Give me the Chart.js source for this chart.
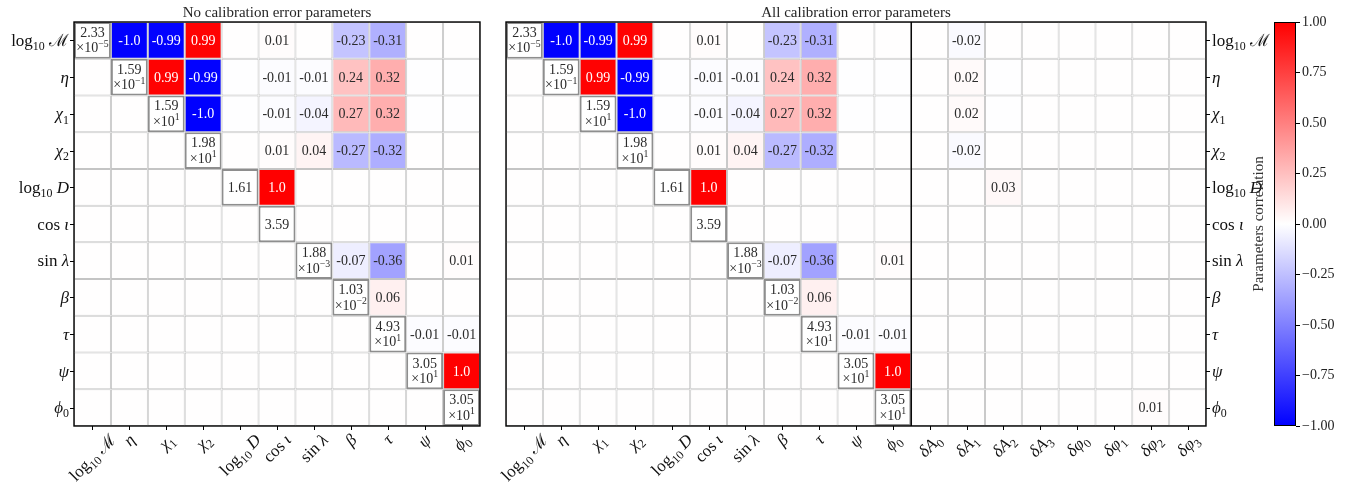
<!DOCTYPE html>
<html>
<head>
<meta charset="utf-8">
<script src="https://cdn.jsdelivr.net/npm/chart.js@4.4.1/dist/chart.umd.min.js"></script>
<style>
  html, body { margin: 0; padding: 0; background: #ffffff; }
  #wrap { position: relative; width: 1347px; height: 483px; overflow: hidden; }
  #wrap canvas { position: absolute; top: 0; }
</style>
</head>
<body>
<div id="wrap">
  <canvas id="leftMatrix" width="500" height="483" style="left:0px"></canvas>
  <canvas id="rightMatrix" width="790" height="483" style="left:490px"></canvas>
  <canvas id="colorBar" width="107" height="483" style="left:1240px"></canvas>
</div>
<script>
// ---------- parameters ----------
const physParams = ['log₁₀ ℳ', 'η', 'χ₁', 'χ₂', 'log₁₀ D', 'cos ι', 'sin λ', 'β', 'τ', 'ψ', 'ϕ₀'];
const calParams  = ['δA₀', 'δA₁', 'δA₂', 'δA₃', 'δφ₀', 'δφ₁', 'δφ₂', 'δφ₃'];

// 1-sigma uncertainties shown on the diagonal
const sigmas = [2.33e-5, 1.59e-1, 1.59e1, 1.98e1, 1.61, 3.59, 1.88e-3, 1.03e-2, 4.93e1, 3.05e1, 3.05e1];

// correlations with the physical parameters (upper triangle, one row per parameter)
const corrLogM = [0, -1.0, -0.99, 0.99, 0.002, 0.01, 0.002, -0.23, -0.31, 0.004, 0.001];
const corrEta  = [0, 0, 0.99, -0.99, -0.002, -0.01, -0.01, 0.24, 0.32, -0.004, -0.001];
const corrChi1 = [0, 0, 0, -1.0, -0.002, -0.01, -0.04, 0.27, 0.32, -0.004, -0.001];
const corrChi2 = [0, 0, 0, 0, 0.002, 0.01, 0.04, -0.27, -0.32, 0.004, 0.001];
const corrLogD = [0, 0, 0, 0, 0, 1.0, 0.003, 0, 0, 0, 0];
const corrCosI = [0, 0, 0, 0, 0, 0, 0.003, 0, 0, 0, 0];
const corrSinL = [0, 0, 0, 0, 0, 0, 0, -0.07, -0.36, 0.002, 0.01];
const corrBeta = [0, 0, 0, 0, 0, 0, 0, 0, 0.06, 0, 0];
const corrTau  = [0, 0, 0, 0, 0, 0, 0, 0, 0, -0.01, -0.01];
const corrPsi  = [0, 0, 0, 0, 0, 0, 0, 0, 0, 0, 1.0];
const corrPhi0 = [0, 0, 0, 0, 0, 0, 0, 0, 0, 0, 0];

// correlations with the calibration error parameters
const calLogM = [0, -0.02, 0.002, 0, 0, 0, 0, 0];
const calEta  = [0, 0.02, -0.004, 0, 0, 0, 0, 0];
const calChi1 = [0, 0.02, -0.004, 0, 0, 0, 0, 0];
const calChi2 = [0, -0.02, 0.004, 0, 0, 0, 0, 0];
const calLogD = [0, 0, 0.03, 0, 0, 0, 0, 0];
const calCosI = [0, 0, 0, 0, 0, 0, 0, 0];
const calSinL = [0, 0, 0, 0, 0, 0, 0, 0];
const calBeta = [0, 0, 0, 0, 0, 0, 0, 0];
const calTau  = [0, 0, 0, 0, 0, 0, 0, 0];
const calPsi  = [0, 0, 0, 0, 0, 0, 0, 0];
const calPhi0 = [0, 0, 0, 0, 0, 0, 0.01, 0];

// colour bar ticks
const cbarTicks = [-1.0, -0.75, -0.5, -0.25, 0.0, 0.25, 0.5, 0.75, 1.0];

const physRows = [corrLogM, corrEta, corrChi1, corrChi2, corrLogD, corrCosI, corrSinL, corrBeta, corrTau, corrPsi, corrPhi0];
const calRows  = [calLogM, calEta, calChi1, calChi2, calLogD, calCosI, calSinL, calBeta, calTau, calPsi, calPhi0];

// ---------- helpers ----------
const FONT = '"Liberation Serif", "DejaVu Serif", serif';
const SUBS = '₀₁₂₃₄₅₆₇₈₉';
const NUM_SIZE = 14;
const LABEL_SIZE = 17;

// bwr colormap with a 256 entry lookup, like matplotlib
function bwr(v) {
  const x = (v + 1) / 2;
  let i = Math.floor(x * 256);
  i = Math.min(255, Math.max(0, i));
  const p = i / 255;
  let r, g, b;
  if (p <= 0.5) { r = g = 2 * p; b = 1; } else { r = 1; g = b = 2 * (1 - p); }
  return `rgb(${Math.round(r * 255)},${Math.round(g * 255)},${Math.round(b * 255)})`;
}

// split a label into upright / italic / subscript runs
function parseLabel(s) {
  const out = [];
  for (const ch of s) {
    let type = 'rm', t = ch;
    const k = SUBS.indexOf(ch);
    if (k >= 0) { type = 'sub'; t = String(k); }
    else if (/[A-Z\u0370-\u03FF]/.test(ch)) type = 'it';
    const last = out[out.length - 1];
    if (last && last.type === type) last.t += t; else out.push({ type, t });
  }
  return out;
}
function segFont(type, size) {
  if (type === 'it') return `italic ${size}px ${FONT}`;
  if (type === 'sub' || type === 'sup') return `${(size * 0.7).toFixed(1)}px ${FONT}`;
  return `${size}px ${FONT}`;
}
function richWidth(ctx, segs, size) {
  let w = 0;
  for (const s of segs) { ctx.font = segFont(s.type, size); w += ctx.measureText(s.t).width; }
  return w;
}
// y is the vertical middle of the text
function drawRich(ctx, segs, x, y, size, align) {
  const w = richWidth(ctx, segs, size);
  let cx = align === 'center' ? x - w / 2 : align === 'right' ? x - w : x;
  const base = y + 0.33 * size;
  ctx.textAlign = 'left';
  ctx.textBaseline = 'alphabetic';
  for (const s of segs) {
    ctx.font = segFont(s.type, size);
    let dy = 0;
    if (s.type === 'sub') dy = 0.25 * size;
    if (s.type === 'sup') dy = -0.4 * size;
    ctx.fillText(s.t, cx, base + dy);
    cx += ctx.measureText(s.t).width;
  }
}

function corrText(v) {
  const r = Math.round(v * 100) / 100;
  if (r === 0) return null;
  return Number.isInteger(r) ? r.toFixed(1) : String(r);
}
function sigmaLines(v) {
  const e = Math.floor(Math.log10(v) + 1e-9);
  const m = (v / Math.pow(10, e)).toFixed(2);
  if (e === 0) return [[{ type: 'rm', t: m }]];
  return [[{ type: 'rm', t: m }], [{ type: 'rm', t: '×10' }, { type: 'sup', t: String(e).replace('-', '−') }]];
}

// ---------- correlation matrix chart ----------
function buildMatrix(canvasId, colLabels, rowValues, pad, cfg) {
  const n = physParams.length;
  const datasets = physParams.map((name, i) => ({
    label: name,
    data: colLabels.map(() => [i - 0.5, i + 0.5]),
    backgroundColor: rowValues[i].map((v, j) => j === i ? '#ffffff' : bwr(v)),
    borderColor: rowValues[i].map((v, j) => j === i ? '#8e8e8e' : '#c4c4c4'),
    borderWidth: rowValues[i].map((v, j) => j === i ? 2 : 1),
    borderSkipped: false,
    inflateAmount: 0,
    grouped: false,
    barPercentage: 1,
    categoryPercentage: 1
  }));

  const matrixDecor = {
    id: 'matrixDecor',
    afterDatasetsDraw(chart) {
      const ctx = chart.ctx;
      const xs = chart.scales.x, ys = chart.scales.y;
      const cw = xs.getPixelForValue(1) - xs.getPixelForValue(0);
      const ch = ys.getPixelForValue(1) - ys.getPixelForValue(0);
      ctx.save();
      for (let i = 0; i < n; i++) {
        for (let j = 0; j < colLabels.length; j++) {
          const x = xs.getPixelForValue(j), y = ys.getPixelForValue(i);
          if (j === i) {
            const lines = sigmaLines(sigmas[i]);
            ctx.save();
            ctx.beginPath();
            ctx.rect(x - cw / 2 - 2, y - ch / 2, cw + 1, ch);
            ctx.clip();
            ctx.fillStyle = '#2b2b2b';
            if (lines.length === 1) drawRich(ctx, lines[0], x, y, NUM_SIZE, 'center');
            else {
              drawRich(ctx, lines[0], x, y - 8, NUM_SIZE, 'center');
              drawRich(ctx, lines[1], x, y + 7.5, NUM_SIZE, 'center');
            }
            ctx.restore();
          } else {
            const t = corrText(rowValues[i][j]);
            if (!t) continue;
            ctx.fillStyle = Math.abs(rowValues[i][j]) > 0.5 ? '#ffffff' : '#2b2b2b';
            drawRich(ctx, [{ type: 'rm', t }], x, y, NUM_SIZE, 'center');
          }
        }
      }
      ctx.restore();
    },
    afterDraw(chart) {
      const ctx = chart.ctx;
      const a = chart.chartArea;
      const xs = chart.scales.x, ys = chart.scales.y;
      ctx.save();
      ctx.strokeStyle = '#000';
      ctx.fillStyle = '#111';
      ctx.lineWidth = 1;
      // tick marks
      ctx.beginPath();
      colLabels.forEach((_, j) => {
        const x = Math.round(xs.getPixelForValue(j)) + 0.5;
        ctx.moveTo(x, a.bottom); ctx.lineTo(x, a.bottom + 4);
      });
      physParams.forEach((_, i) => {
        const y = Math.round(ys.getPixelForValue(i)) + 0.5;
        if (cfg.yRight) { ctx.moveTo(a.right, y); ctx.lineTo(a.right + 4, y); }
        else { ctx.moveTo(a.left - 4, y); ctx.lineTo(a.left, y); }
      });
      ctx.stroke();
      // separator between physical and calibration blocks
      if (cfg.split) {
        const xSep = (xs.getPixelForValue(cfg.split - 1) + xs.getPixelForValue(cfg.split)) / 2;
        ctx.lineWidth = 1.4;
        ctx.beginPath(); ctx.moveTo(xSep, a.top); ctx.lineTo(xSep, a.bottom); ctx.stroke();
      }
      // frame
      ctx.lineWidth = 1.4;
      ctx.strokeRect(a.left, a.top, a.right - a.left, a.bottom - a.top);
      // row labels
      physParams.forEach((name, i) => {
        const y = ys.getPixelForValue(i);
        const segs = parseLabel(name);
        if (cfg.yRight) drawRich(ctx, segs, a.right + 6, y, LABEL_SIZE, 'left');
        else drawRich(ctx, segs, a.left - 5, y, LABEL_SIZE, 'right');
      });
      // column labels, rotated 45 degrees and centred on the tick
      colLabels.forEach((name, j) => {
        const segs = parseLabel(name);
        const w = richWidth(ctx, segs, LABEL_SIZE);
        const side = (w + LABEL_SIZE) * Math.SQRT1_2;
        const cx = xs.getPixelForValue(j);
        const cy = a.bottom + 5 + side / 2;
        ctx.save();
        ctx.translate(cx, cy);
        ctx.rotate(-Math.PI / 4);
        drawRich(ctx, segs, 0, 0, LABEL_SIZE, 'center');
        ctx.restore();
      });
      // title
      ctx.fillStyle = '#262626';
      ctx.font = `15px ${FONT}`;
      ctx.textAlign = 'center';
      ctx.textBaseline = 'alphabetic';
      ctx.fillText(cfg.title, (a.left + a.right) / 2, a.top - 5);
      ctx.restore();
    }
  };

  return new Chart(document.getElementById(canvasId), {
    type: 'bar',
    data: { labels: colLabels, datasets },
    options: {
      responsive: false,
      animation: false,
      devicePixelRatio: 1,
      layout: { padding: pad },
      scales: {
        x: { type: 'category', display: false, offset: true },
        y: { type: 'linear', display: false, reverse: true, min: -0.5, max: n - 0.5 }
      },
      plugins: { legend: { display: false }, tooltip: { enabled: false } }
    },
    plugins: [matrixDecor]
  });
}

buildMatrix('leftMatrix', physParams, physRows,
  { left: 74, right: 20, top: 22, bottom: 57 },
  { title: 'No calibration error parameters', yRight: false, split: 0 });

buildMatrix('rightMatrix', physParams.concat(calParams), physRows.map((r, i) => r.concat(calRows[i])),
  { left: 16, right: 74, top: 22, bottom: 57 },
  { title: 'All calibration error parameters', yRight: true, split: physParams.length });

// ---------- colour bar ----------
const cbarLabel = {
  id: 'cbarLabel',
  afterDraw(chart) {
    const ctx = chart.ctx, a = chart.chartArea;
    ctx.save();
    ctx.translate(a.left - 15, (a.top + a.bottom) / 2);
    ctx.rotate(-Math.PI / 2);
    ctx.fillStyle = '#333';
    ctx.font = `15px ${FONT}`;
    ctx.textAlign = 'center';
    ctx.textBaseline = 'middle';
    ctx.fillText('Parameters correlation', 0, 0);
    ctx.restore();
  }
};

new Chart(document.getElementById('colorBar'), {
  type: 'bar',
  data: {
    labels: [''],
    datasets: [{
      data: [[cbarTicks[0], cbarTicks[cbarTicks.length - 1]]],
      backgroundColor(c) {
        const a = c.chart.chartArea;
        if (!a) return '#fff';
        const g = c.chart.ctx.createLinearGradient(0, a.top, 0, a.bottom);
        g.addColorStop(0, 'rgb(255,0,0)');
        g.addColorStop(0.5, 'rgb(255,255,255)');
        g.addColorStop(1, 'rgb(0,0,255)');
        return g;
      },
      borderColor: '#000',
      borderWidth: 1,
      borderSkipped: false,
      inflateAmount: 0,
      barPercentage: 1,
      categoryPercentage: 1
    }]
  },
  options: {
    responsive: false,
    animation: false,
    devicePixelRatio: 1,
    layout: { padding: { left: 34, right: 0, top: 22, bottom: 57 } },
    scales: {
      x: { display: false },
      y: {
        position: 'right',
        min: cbarTicks[0],
        max: cbarTicks[cbarTicks.length - 1],
        afterBuildTicks(scale) { scale.ticks = cbarTicks.map(v => ({ value: v })); },
        afterFit(scale) { scale.width = 51; },
        ticks: {
          callback: v => v.toFixed(2).replace('-', '−'),
          color: '#222',
          padding: 2,
          font: { family: FONT, size: 14 }
        },
        grid: { drawOnChartArea: false, color: '#000', tickLength: 4, tickWidth: 1 },
        border: { display: false }
      }
    },
    plugins: { legend: { display: false }, tooltip: { enabled: false } }
  },
  plugins: [cbarLabel]
});
</script>
</body>
</html>
